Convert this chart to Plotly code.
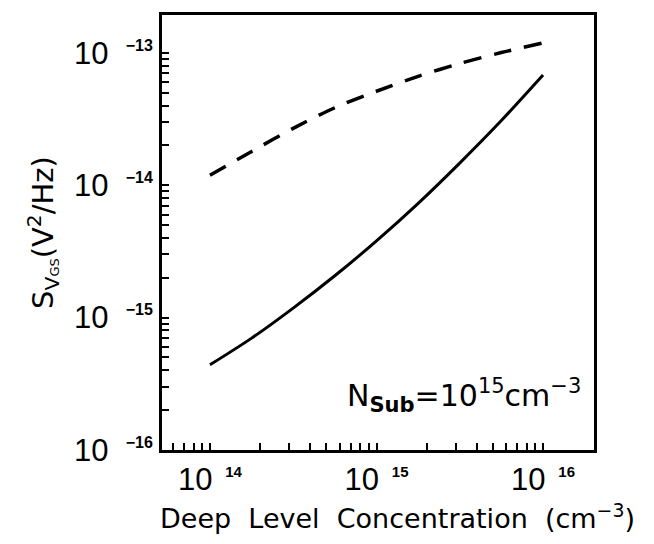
import plotly.graph_objects as go

# Data (log-log)
conc_solid = [1.0e14, 1.78e14, 3.16e14, 5.62e14, 1.0e15, 1.78e15, 3.16e15, 5.62e15, 1.0e16]
s_solid = [4.4e-16, 7.0e-16, 1.18e-15, 2.07e-15, 3.8e-15, 7.3e-15, 1.47e-14, 3.08e-14, 6.8e-14]

conc_dashed = [1.0e14, 1.78e14, 3.16e14, 5.62e14, 1.0e15, 1.78e15, 3.16e15, 5.62e15, 1.0e16]
s_dashed = [1.19e-14, 1.80e-14, 2.69e-14, 3.85e-14, 5.13e-14, 6.65e-14, 8.32e-14, 1.006e-13, 1.19e-13]

x_major = [1e14, 1e15, 1e16]
x_major_text = ["14", "15", "16"]
y_major = [1e-16, 1e-15, 1e-14, 1e-13]
y_major_text = ["\u221216", "\u221215", "\u221214", "\u221213"]

x_minor = [m * 10.0 ** e for e in (13, 14, 15, 16) for m in range(2, 10)]
y_minor = [m * 10.0 ** e for e in (-16, -15, -14, -13) for m in range(2, 10)]

FONT = "Liberation Sans"
TFONT = "DejaVu Sans"

def xlab(exp):
    return "10&nbsp;<sup><span style='font-size:15px'><b>&nbsp;%s</b></span></sup>" % exp

def ylab(exp):
    return "10&nbsp;&nbsp;<sup><span style='font-size:16px'><b>%s</b></span></sup>" % exp

x_tickvals = x_major + x_minor
x_ticktext = [xlab(t) for t in x_major_text] + [""] * len(x_minor)
y_tickvals = y_major + y_minor
y_ticktext = [ylab(t) for t in y_major_text] + [""] * len(y_minor)

fig = go.Figure()
fig.add_trace(go.Scatter(x=conc_dashed, y=s_dashed, mode="lines",
                         line=dict(color="black", width=3.5, dash="18px,13px", shape="spline", smoothing=0.8),
                         showlegend=False))
fig.add_trace(go.Scatter(x=conc_solid, y=s_solid, mode="lines",
                         line=dict(color="black", width=3, shape="spline", smoothing=0.8),
                         showlegend=False))

fig.update_layout(
    width=654, height=544,
    margin=dict(l=162, r=60, t=12, b=94),
    plot_bgcolor="white", paper_bgcolor="white",
    font=dict(family=FONT, color="black", size=30),
    xaxis=dict(type="log", range=[13.712, 16.306],
               tickmode="array", tickvals=x_tickvals, ticktext=x_ticktext,
               ticks="inside", ticklen=7, tickwidth=2, tickcolor="black",
               showline=True, linewidth=3, linecolor="black", mirror=True,
               showgrid=False, zeroline=False,
               tickfont=dict(size=31, family=FONT)),
    yaxis=dict(type="log", range=[-16.0, -12.714],
               tickmode="array", tickvals=y_tickvals, ticktext=y_ticktext,
               ticks="inside", ticklen=7, tickwidth=2, tickcolor="black",
               showline=True, linewidth=3, linecolor="black", mirror=True,
               showgrid=False, zeroline=False,
               tickfont=dict(size=31, family=FONT),
               title=dict(text="S<sub>V<span style='font-size:13px'>GS</span></sub>(V<sup>2</sup>/Hz)",
                          font=dict(size=29, family=TFONT), standoff=12)),
)

fig.add_annotation(x=0.544, y=-0.153, xref="paper", yref="paper",
                   text="Deep&nbsp; Level&nbsp; Concentration&nbsp; (cm<sup>\u22123</sup>)",
                   showarrow=False, font=dict(size=27, family=TFONT, color="black"),
                   xanchor="center", yanchor="middle")

fig.add_annotation(x=0.70, y=0.125, xref="paper", yref="paper",
                   text="N<sub><b>Sub</b></sub>=10<sup>15</sup>cm<sup>\u22123</sup>",
                   showarrow=False, font=dict(size=30, family=TFONT, color="black"),
                   xanchor="center", yanchor="middle")

fig.write_html("out.html")
